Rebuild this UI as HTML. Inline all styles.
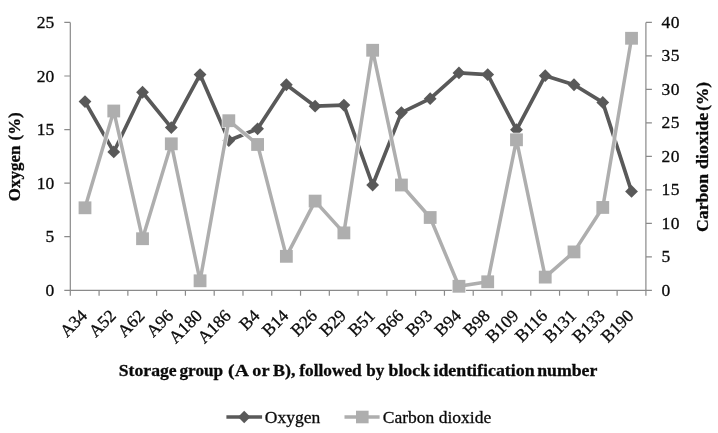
<!DOCTYPE html>
<html lang="en"><head><meta charset="utf-8"><title>Oxygen and carbon dioxide by storage block</title>
<style>html,body{margin:0;padding:0;background:#fff}body{width:718px;height:433px;overflow:hidden}svg{display:block;filter:blur(0.5px)}</style></head>
<body>
<svg width="718" height="433" viewBox="0 0 718 433" font-family='"Liberation Serif", serif' font-size="17.5" fill="#0a0a0a" stroke="#0a0a0a" stroke-width="0.3">
<rect width="718" height="433" fill="#fff" stroke="none"/>
<path d="M70.3 22.4V290.3M645.9 22.4V290.3M70.3 290.3H645.9M64.3 22.40H70.3M64.3 75.98H70.3M64.3 129.56H70.3M64.3 183.14H70.3M64.3 236.72H70.3M64.3 290.30H70.3M645.9 22.40H651.9M645.9 55.89H651.9M645.9 89.38H651.9M645.9 122.86H651.9M645.9 156.35H651.9M645.9 189.84H651.9M645.9 223.33H651.9M645.9 256.81H651.9M645.9 290.30H651.9M70.30 290.3V295.8M99.08 290.3V295.8M127.86 290.3V295.8M156.64 290.3V295.8M185.42 290.3V295.8M214.20 290.3V295.8M242.98 290.3V295.8M271.76 290.3V295.8M300.54 290.3V295.8M329.32 290.3V295.8M358.10 290.3V295.8M386.88 290.3V295.8M415.66 290.3V295.8M444.44 290.3V295.8M473.22 290.3V295.8M502.00 290.3V295.8M530.78 290.3V295.8M559.56 290.3V295.8M588.34 290.3V295.8M617.12 290.3V295.8M645.90 290.3V295.8" stroke="#8a8a8a" stroke-width="1.2" fill="none"/>
<text x="54.2" y="28.00" text-anchor="end">25</text>
<text x="54.2" y="81.58" text-anchor="end">20</text>
<text x="54.2" y="135.16" text-anchor="end">15</text>
<text x="54.2" y="188.74" text-anchor="end">10</text>
<text x="54.2" y="242.32" text-anchor="end">5</text>
<text x="54.2" y="295.90" text-anchor="end">0</text>
<text x="661.6" y="28.00" letter-spacing="0.4">40</text>
<text x="661.6" y="61.49" letter-spacing="0.4">35</text>
<text x="661.6" y="94.97" letter-spacing="0.4">30</text>
<text x="661.6" y="128.46" letter-spacing="0.4">25</text>
<text x="661.6" y="161.95" letter-spacing="0.4">20</text>
<text x="661.6" y="195.44" letter-spacing="0.4">15</text>
<text x="661.6" y="228.93" letter-spacing="0.4">10</text>
<text x="661.6" y="262.41">5</text>
<text x="661.6" y="295.90">0</text>
<polyline points="85.00,101.58 113.77,151.94 142.53,92.25 171.30,127.62 200.06,74.57 228.82,140.48 257.59,128.80 286.36,84.75 315.12,106.18 343.88,105.11 372.65,185.05 401.42,112.61 430.18,98.68 458.94,72.97 487.71,74.57 516.48,129.76 545.24,75.64 574.00,84.75 602.77,102.43 631.53,191.38" fill="none" stroke="#595959" stroke-width="3.7" stroke-linejoin="round" stroke-linecap="round"/>
<path d="M85.00 95.18L91.40 101.58L85.00 107.98L78.60 101.58Z" fill="#595959" stroke="none"/>
<path d="M113.77 145.54L120.17 151.94L113.77 158.34L107.36 151.94Z" fill="#595959" stroke="none"/>
<path d="M142.53 85.85L148.93 92.25L142.53 98.65L136.13 92.25Z" fill="#595959" stroke="none"/>
<path d="M171.30 121.22L177.70 127.62L171.30 134.02L164.90 127.62Z" fill="#595959" stroke="none"/>
<path d="M200.06 68.17L206.46 74.57L200.06 80.97L193.66 74.57Z" fill="#595959" stroke="none"/>
<path d="M228.82 134.08L235.22 140.48L228.82 146.88L222.42 140.48Z" fill="#595959" stroke="none"/>
<path d="M257.59 122.40L263.99 128.80L257.59 135.20L251.19 128.80Z" fill="#595959" stroke="none"/>
<path d="M286.36 78.35L292.75 84.75L286.36 91.15L279.96 84.75Z" fill="#595959" stroke="none"/>
<path d="M315.12 99.78L321.52 106.18L315.12 112.58L308.72 106.18Z" fill="#595959" stroke="none"/>
<path d="M343.88 98.71L350.28 105.11L343.88 111.51L337.49 105.11Z" fill="#595959" stroke="none"/>
<path d="M372.65 178.65L379.05 185.05L372.65 191.45L366.25 185.05Z" fill="#595959" stroke="none"/>
<path d="M401.42 106.21L407.81 112.61L401.42 119.01L395.02 112.61Z" fill="#595959" stroke="none"/>
<path d="M430.18 92.28L436.58 98.68L430.18 105.08L423.78 98.68Z" fill="#595959" stroke="none"/>
<path d="M458.94 66.57L465.34 72.97L458.94 79.37L452.55 72.97Z" fill="#595959" stroke="none"/>
<path d="M487.71 68.17L494.11 74.57L487.71 80.97L481.31 74.57Z" fill="#595959" stroke="none"/>
<path d="M516.48 123.36L522.88 129.76L516.48 136.16L510.08 129.76Z" fill="#595959" stroke="none"/>
<path d="M545.24 69.24L551.64 75.64L545.24 82.04L538.84 75.64Z" fill="#595959" stroke="none"/>
<path d="M574.00 78.35L580.40 84.75L574.00 91.15L567.61 84.75Z" fill="#595959" stroke="none"/>
<path d="M602.77 96.03L609.17 102.43L602.77 108.83L596.37 102.43Z" fill="#595959" stroke="none"/>
<path d="M631.53 184.98L637.93 191.38L631.53 197.78L625.13 191.38Z" fill="#595959" stroke="none"/>
<polyline points="85.00,207.79 113.77,111.01 142.53,238.73 171.30,143.82 200.06,280.79 228.82,120.72 257.59,144.49 286.36,256.34 315.12,201.09 343.88,232.90 372.65,50.26 401.42,185.01 430.18,217.50 458.94,286.28 487.71,281.79 516.48,139.81 545.24,277.11 574.00,251.92 602.77,207.45 631.53,38.27" fill="none" stroke="#fff" stroke-opacity="0.85" stroke-width="5.1" stroke-linejoin="round" stroke-linecap="round"/>
<rect x="77.90" y="200.69" width="14.2" height="14.2" fill="#fff" fill-opacity="0.85" stroke="none"/>
<rect x="106.67" y="103.91" width="14.2" height="14.2" fill="#fff" fill-opacity="0.85" stroke="none"/>
<rect x="135.43" y="231.63" width="14.2" height="14.2" fill="#fff" fill-opacity="0.85" stroke="none"/>
<rect x="164.20" y="136.72" width="14.2" height="14.2" fill="#fff" fill-opacity="0.85" stroke="none"/>
<rect x="192.96" y="273.69" width="14.2" height="14.2" fill="#fff" fill-opacity="0.85" stroke="none"/>
<rect x="221.72" y="113.62" width="14.2" height="14.2" fill="#fff" fill-opacity="0.85" stroke="none"/>
<rect x="250.49" y="137.39" width="14.2" height="14.2" fill="#fff" fill-opacity="0.85" stroke="none"/>
<rect x="279.25" y="249.24" width="14.2" height="14.2" fill="#fff" fill-opacity="0.85" stroke="none"/>
<rect x="308.02" y="193.99" width="14.2" height="14.2" fill="#fff" fill-opacity="0.85" stroke="none"/>
<rect x="336.78" y="225.80" width="14.2" height="14.2" fill="#fff" fill-opacity="0.85" stroke="none"/>
<rect x="365.55" y="43.16" width="14.2" height="14.2" fill="#fff" fill-opacity="0.85" stroke="none"/>
<rect x="394.31" y="177.91" width="14.2" height="14.2" fill="#fff" fill-opacity="0.85" stroke="none"/>
<rect x="423.08" y="210.40" width="14.2" height="14.2" fill="#fff" fill-opacity="0.85" stroke="none"/>
<rect x="451.84" y="279.18" width="14.2" height="14.2" fill="#fff" fill-opacity="0.85" stroke="none"/>
<rect x="480.61" y="274.69" width="14.2" height="14.2" fill="#fff" fill-opacity="0.85" stroke="none"/>
<rect x="509.38" y="132.71" width="14.2" height="14.2" fill="#fff" fill-opacity="0.85" stroke="none"/>
<rect x="538.14" y="270.00" width="14.2" height="14.2" fill="#fff" fill-opacity="0.85" stroke="none"/>
<rect x="566.90" y="244.82" width="14.2" height="14.2" fill="#fff" fill-opacity="0.85" stroke="none"/>
<rect x="595.67" y="200.35" width="14.2" height="14.2" fill="#fff" fill-opacity="0.85" stroke="none"/>
<rect x="624.43" y="31.17" width="14.2" height="14.2" fill="#fff" fill-opacity="0.85" stroke="none"/>
<polyline points="85.00,207.79 113.77,111.01 142.53,238.73 171.30,143.82 200.06,280.79 228.82,120.72 257.59,144.49 286.36,256.34 315.12,201.09 343.88,232.90 372.65,50.26 401.42,185.01 430.18,217.50 458.94,286.28 487.71,281.79 516.48,139.81 545.24,277.11 574.00,251.92 602.77,207.45 631.53,38.27" fill="none" stroke="#aeaeae" stroke-width="3.5" stroke-linejoin="round" stroke-linecap="round"/>
<rect x="78.60" y="201.39" width="12.8" height="12.8" fill="#aeaeae" stroke="none"/>
<rect x="107.36" y="104.61" width="12.8" height="12.8" fill="#aeaeae" stroke="none"/>
<rect x="136.13" y="232.33" width="12.8" height="12.8" fill="#aeaeae" stroke="none"/>
<rect x="164.90" y="137.42" width="12.8" height="12.8" fill="#aeaeae" stroke="none"/>
<rect x="193.66" y="274.39" width="12.8" height="12.8" fill="#aeaeae" stroke="none"/>
<rect x="222.42" y="114.32" width="12.8" height="12.8" fill="#aeaeae" stroke="none"/>
<rect x="251.19" y="138.09" width="12.8" height="12.8" fill="#aeaeae" stroke="none"/>
<rect x="279.96" y="249.94" width="12.8" height="12.8" fill="#aeaeae" stroke="none"/>
<rect x="308.72" y="194.69" width="12.8" height="12.8" fill="#aeaeae" stroke="none"/>
<rect x="337.49" y="226.50" width="12.8" height="12.8" fill="#aeaeae" stroke="none"/>
<rect x="366.25" y="43.86" width="12.8" height="12.8" fill="#aeaeae" stroke="none"/>
<rect x="395.02" y="178.61" width="12.8" height="12.8" fill="#aeaeae" stroke="none"/>
<rect x="423.78" y="211.10" width="12.8" height="12.8" fill="#aeaeae" stroke="none"/>
<rect x="452.55" y="279.88" width="12.8" height="12.8" fill="#aeaeae" stroke="none"/>
<rect x="481.31" y="275.39" width="12.8" height="12.8" fill="#aeaeae" stroke="none"/>
<rect x="510.08" y="133.41" width="12.8" height="12.8" fill="#aeaeae" stroke="none"/>
<rect x="538.84" y="270.71" width="12.8" height="12.8" fill="#aeaeae" stroke="none"/>
<rect x="567.61" y="245.52" width="12.8" height="12.8" fill="#aeaeae" stroke="none"/>
<rect x="596.37" y="201.05" width="12.8" height="12.8" fill="#aeaeae" stroke="none"/>
<rect x="625.13" y="31.87" width="12.8" height="12.8" fill="#aeaeae" stroke="none"/>
<text transform="translate(88.20 316.70) rotate(-45)" text-anchor="end">A34</text>
<text transform="translate(116.97 316.70) rotate(-45)" text-anchor="end">A52</text>
<text transform="translate(145.73 316.70) rotate(-45)" text-anchor="end">A62</text>
<text transform="translate(174.50 316.70) rotate(-45)" text-anchor="end">A96</text>
<text transform="translate(203.26 316.70) rotate(-45)" text-anchor="end">A180</text>
<text transform="translate(232.02 316.70) rotate(-45)" text-anchor="end">A186</text>
<text transform="translate(260.79 316.70) rotate(-45)" text-anchor="end">B4</text>
<text transform="translate(289.56 316.70) rotate(-45)" text-anchor="end">B14</text>
<text transform="translate(318.32 316.70) rotate(-45)" text-anchor="end">B26</text>
<text transform="translate(347.08 316.70) rotate(-45)" text-anchor="end">B29</text>
<text transform="translate(375.85 316.70) rotate(-45)" text-anchor="end">B51</text>
<text transform="translate(404.62 316.70) rotate(-45)" text-anchor="end">B66</text>
<text transform="translate(433.38 316.70) rotate(-45)" text-anchor="end">B93</text>
<text transform="translate(462.14 316.70) rotate(-45)" text-anchor="end">B94</text>
<text transform="translate(490.91 316.70) rotate(-45)" text-anchor="end">B98</text>
<text transform="translate(519.68 316.70) rotate(-45)" text-anchor="end">B109</text>
<text transform="translate(548.44 316.70) rotate(-45)" text-anchor="end">B116</text>
<text transform="translate(577.21 316.70) rotate(-45)" text-anchor="end">B131</text>
<text transform="translate(605.97 316.70) rotate(-45)" text-anchor="end">B133</text>
<text transform="translate(634.74 316.70) rotate(-45)" text-anchor="end">B190</text>
<text y="376.3" font-weight="bold" xml:space="preserve"><tspan x="118.81" textLength="57.84" lengthAdjust="spacingAndGlyphs">Storage</tspan> <tspan x="179.53" textLength="43.62" lengthAdjust="spacingAndGlyphs">group</tspan> <tspan x="228.12" textLength="19.67" lengthAdjust="spacingAndGlyphs">(A</tspan> <tspan x="252.36" textLength="16.82" lengthAdjust="spacingAndGlyphs">or</tspan> <tspan x="273.05" textLength="22.38" lengthAdjust="spacingAndGlyphs">B),</tspan> <tspan x="299.30" textLength="62.39" lengthAdjust="spacingAndGlyphs">followed</tspan> <tspan x="366.37" textLength="17.98" lengthAdjust="spacingAndGlyphs">by</tspan> <tspan x="388.52" textLength="41.54" lengthAdjust="spacingAndGlyphs">block</tspan> <tspan x="433.44" textLength="101.16" lengthAdjust="spacingAndGlyphs">identification</tspan> <tspan x="537.18" textLength="60.11" lengthAdjust="spacingAndGlyphs">number</tspan></text>
<text transform="translate(19.8 0) rotate(-90)" font-weight="bold" xml:space="preserve"><tspan x="-201.15" textLength="55.66" lengthAdjust="spacingAndGlyphs">Oxygen</tspan> <tspan x="-140.41" textLength="28.16" lengthAdjust="spacingAndGlyphs">(%)</tspan></text>
<text transform="translate(708 0) rotate(-90)" font-weight="bold" xml:space="preserve"><tspan x="-231.97" textLength="57.97" lengthAdjust="spacingAndGlyphs">Carbon</tspan> <tspan x="-169.02" textLength="56.36" lengthAdjust="spacingAndGlyphs">dioxide</tspan> <tspan x="-110.79" textLength="28.76" lengthAdjust="spacingAndGlyphs">(%)</tspan></text>
<path d="M226.4 417H262.1" stroke="#595959" stroke-width="3.7"/>
<path d="M244.2 410.8L250.39999999999998 417L244.2 423.2L238.0 417Z" fill="#595959" stroke="none"/>
<text x="264.8" y="422.7">Oxygen</text>
<path d="M344.5 417H379.6" stroke="#aeaeae" stroke-width="3.5"/>
<rect x="356.0" y="410.7" width="12.6" height="12.6" fill="#aeaeae" stroke="none"/>
<text x="382.8" y="422.7">Carbon dioxide</text>
</svg>
</body></html>
